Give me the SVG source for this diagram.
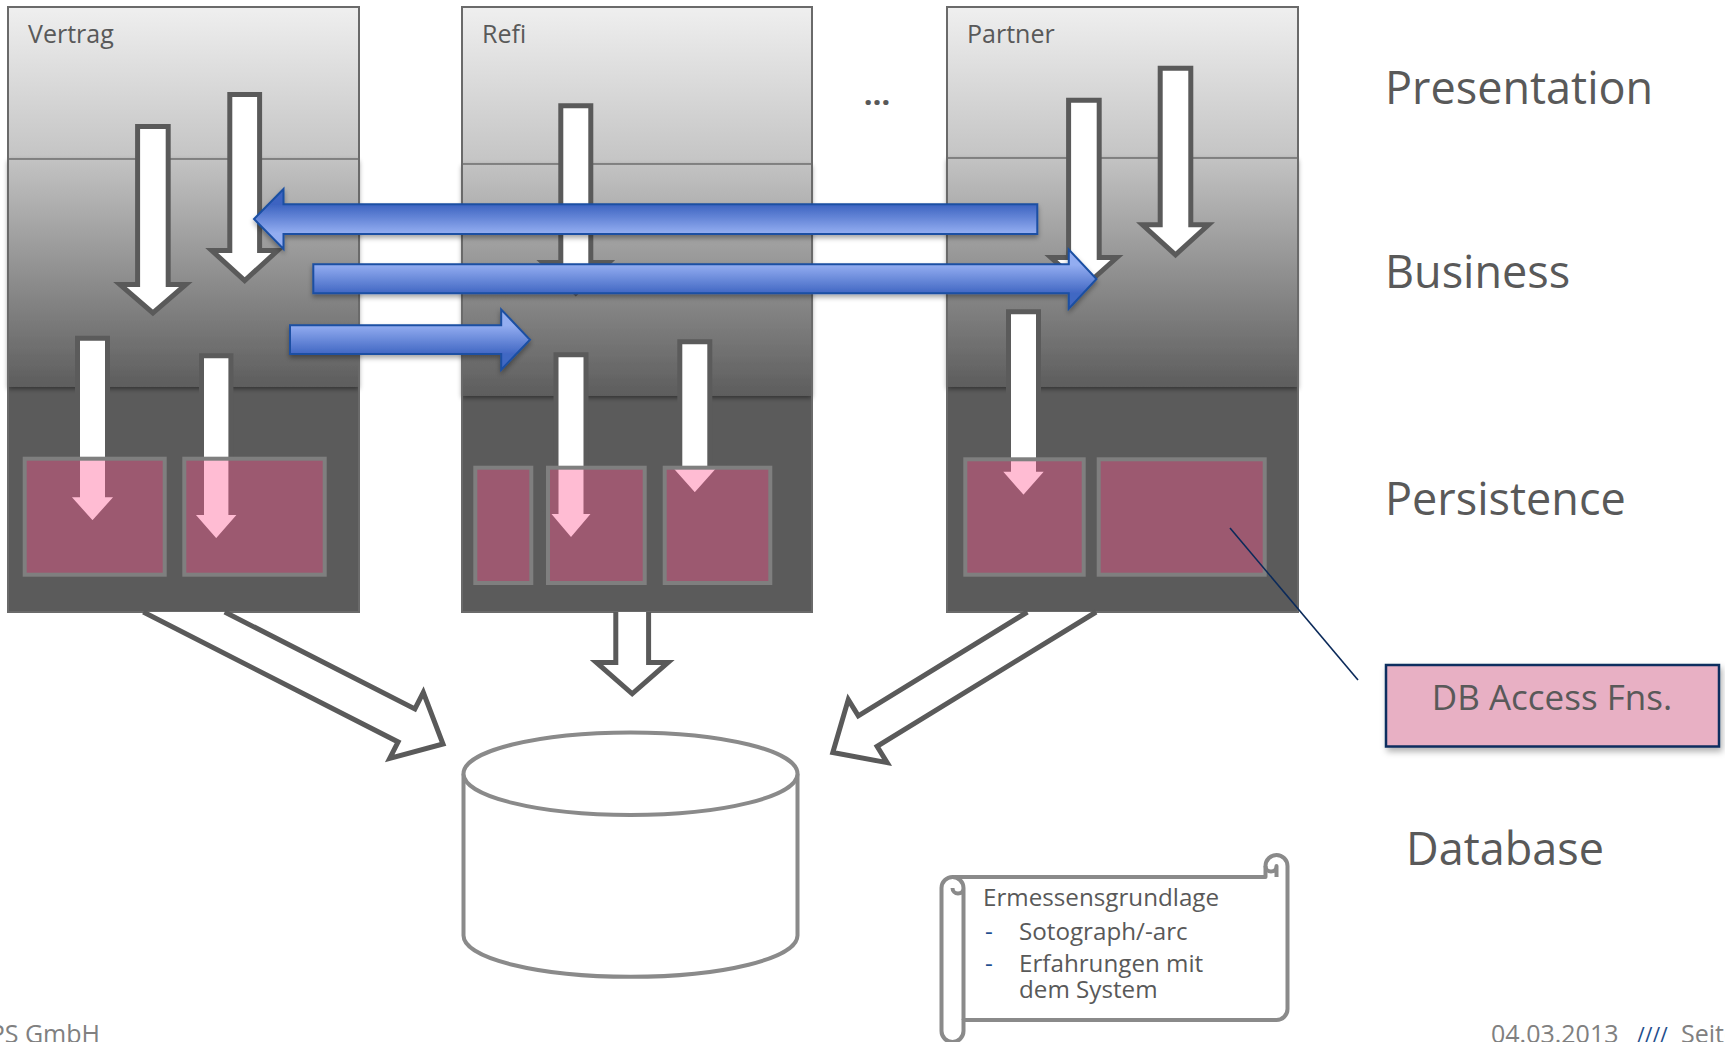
<svg xmlns="http://www.w3.org/2000/svg" width="1725" height="1042" viewBox="0 0 1725 1042">
<defs>
<style>
.lbl{font-family:"Open Sans","Liberation Sans",sans-serif;fill:#595959}
.col-title{font-size:25px}
.layer{font-size:45px}
.outline{fill:none;stroke:#6a6a6a;stroke-width:2}
.div{stroke:#6e6e6e;stroke-width:1.5}
.warrow{fill:#ffffff;stroke:#5a5a5a;stroke-width:5;stroke-linejoin:miter}
.parrow{fill:#ffffff;stroke:#5b5b5b;stroke-width:5}
.pbox{fill:#ff5890;fill-opacity:0.4;stroke:#7f7f7f;stroke-width:4}
.barrow{stroke:#1a4fa3;stroke-width:2;filter:url(#sh)}
.db{fill:#ffffff;stroke:#8a8a8a;stroke-width:4}
.scroll{fill:#ffffff;stroke:#8a8a8a;stroke-width:4;stroke-linejoin:round}
.note-t{font-size:24.2px}
.foot{font-family:"Open Sans","Liberation Sans",sans-serif;font-size:25px;fill:#808080}
.slash{font-size:21px;fill:#1f4e8c}
</style>
<linearGradient id="gPres" x1="0" y1="0" x2="0" y2="1"><stop offset="0" stop-color="#efefef"/><stop offset="1" stop-color="#c4c4c4"/></linearGradient>
<linearGradient id="gBus" x1="0" y1="0" x2="0" y2="1"><stop offset="0" stop-color="#c3c3c3"/><stop offset="1" stop-color="#5d5d5d"/></linearGradient>
<linearGradient id="gBlueR" x1="0" y1="0" x2="0" y2="1"><stop offset="0" stop-color="#93adf1"/><stop offset="0.26" stop-color="#93adf1"/><stop offset="0.74" stop-color="#4167c3"/><stop offset="1" stop-color="#4167c3"/></linearGradient>
<linearGradient id="gBlueL" x1="0" y1="0" x2="0" y2="1"><stop offset="0" stop-color="#3d64c1"/><stop offset="0.26" stop-color="#3d64c1"/><stop offset="0.74" stop-color="#93adf1"/><stop offset="1" stop-color="#93adf1"/></linearGradient>
<filter id="sh" x="-5%" y="-40%" width="110%" height="200%"><feDropShadow dx="0" dy="3" stdDeviation="2.5" flood-color="#000" flood-opacity="0.35"/></filter>
<filter id="bsh" x="-5%" y="-10%" width="110%" height="125%"><feDropShadow dx="0" dy="2" stdDeviation="2.5" flood-color="#000" flood-opacity="0.45"/></filter>
<filter id="boxsh" x="-10%" y="-20%" width="120%" height="150%"><feDropShadow dx="2" dy="4" stdDeviation="3" flood-color="#000" flood-opacity="0.3"/></filter>
</defs>
<rect width="1725" height="1042" fill="#ffffff"/>

<!-- columns -->
<g id="col-vertrag">
<rect x="8" y="7" width="351" height="605" fill="#5b5b5b"/>
<rect x="8" y="7" width="351" height="152" fill="url(#gPres)"/>
<rect x="8" y="159" width="351" height="228" fill="url(#gBus)" filter="url(#bsh)"/>
<line class="div" x1="8" y1="159" x2="359" y2="159"/>
<rect class="outline" x="8" y="7" width="351" height="605"/>
<text class="lbl col-title" x="28" y="43">Vertrag</text>
</g>
<g id="col-refi">
<rect x="462" y="7" width="350" height="605" fill="#5b5b5b"/>
<rect x="462" y="7" width="350" height="157" fill="url(#gPres)"/>
<rect x="462" y="164" width="350" height="232" fill="url(#gBus)" filter="url(#bsh)"/>
<line class="div" x1="462" y1="164" x2="812" y2="164"/>
<rect class="outline" x="462" y="7" width="350" height="605"/>
<text class="lbl col-title" x="482" y="43">Refi</text>
</g>
<g id="col-partner">
<rect x="947" y="7" width="351" height="605" fill="#5b5b5b"/>
<rect x="947" y="7" width="351" height="151" fill="url(#gPres)"/>
<rect x="947" y="158" width="351" height="229" fill="url(#gBus)" filter="url(#bsh)"/>
<line class="div" x1="947" y1="158" x2="1298" y2="158"/>
<rect class="outline" x="947" y="7" width="351" height="605"/>
<text class="lbl col-title" x="967" y="43">Partner</text>
</g>
<g id="ellipsis"><text class="lbl" x="877" y="105" font-size="31" font-weight="bold" text-anchor="middle">…</text></g>

<!-- downward flows -->
<g id="connectors">
<path class="warrow" d="M137.6,126.5 H168.2 V284.5 H185.9 L152.9,313 L119.9,284.5 H137.6 Z"/>
<path class="warrow" d="M229.8,94.5 H259.6 V250.5 H277.7 L244.7,280.5 L211.7,250.5 H229.8 Z"/>
<path class="warrow" d="M560.8,105.8 H590.8 V262.5 H608.8 L575.8,293 L542.8,262.5 H560.8 Z"/>
<path class="warrow" d="M1068.6,100.2 H1099.2 V257.5 H1116.9 L1083.9,287 L1050.9,257.5 H1068.6 Z"/>
<path class="warrow" d="M1160.2,68.2 H1190.8 V224.8 H1208.5 L1175.5,254.8 L1142.5,224.8 H1160.2 Z"/>
<path class="parrow" d="M77.5,338.2 H107.5 V494.8 H118.5 L92.5,524 L66.5,494.8 H77.5 Z"/>
<path class="parrow" d="M201.5,355.8 H230.9 V512.5 H242 L216.2,541.8 L190.4,512.5 H201.5 Z"/>
<path class="parrow" d="M556,354.8 H586 V511.5 H595.8 L571,540.8 L546.2,511.5 H556 Z"/>
<path class="parrow" d="M679.8,341.8 H709.8 V466.5 H721.1 L694.8,495.8 L668.5,466.5 H679.8 Z"/>
<path class="parrow" d="M1008.5,311.8 H1038.5 V469.2 H1049.3 L1023.5,498.5 L997.7,469.2 H1008.5 Z"/>
<path class="warrow" d="M615.8,612 V662.5 H596.4 L632.2,693.8 L668,662.5 H648.6 V612"/>
<path class="warrow" d="M143.3,612 L398.1,741.9 L389.7,758.4 L443,744 L423.3,692.4 L414.9,708.9 L224.7,612"/>
<path class="warrow" d="M1027.4,612 L858.3,715.8 L848.3,699.6 L832.8,752.5 L887.1,762.6 L877.1,746.4 L1096.1,612"/>
</g>

<!-- persistence DB access boxes -->
<g id="vertrag-db1"><rect class="pbox" x="24.7" y="458.7" width="140" height="116"/></g>
<g id="vertrag-db2"><rect class="pbox" x="184.3" y="458.7" width="140.4" height="116"/></g>
<g id="refi-db1"><rect class="pbox" x="475.3" y="467.7" width="56" height="115.3"/></g>
<g id="refi-db2"><rect class="pbox" x="548" y="467.7" width="96.7" height="115.3"/></g>
<g id="refi-db3"><rect class="pbox" x="664.7" y="467.7" width="105.6" height="115.3"/></g>
<g id="partner-db1"><rect class="pbox" x="965.3" y="459.3" width="118.4" height="115.4"/></g>
<g id="partner-db2"><rect class="pbox" x="1098.7" y="459.3" width="166" height="115.4"/></g>

<!-- cross calls -->
<g id="calls">
<path class="barrow" fill="url(#gBlueL)" d="M1037.3,204.3 L283.5,204.3 L283.5,189 L254,219 L283.5,249 L283.5,234 L1037.3,234 Z"/>
<path class="barrow" fill="url(#gBlueR)" d="M313.3,264.3 L1068.8,264.3 L1068.8,249.5 L1096.5,279 L1068.8,308.8 L1068.8,293.3 L313.3,293.3 Z"/>
<path class="barrow" fill="url(#gBlueR)" d="M290,325.3 L501.2,325.3 L501.2,309.5 L530,339.7 L501.2,369.8 L501.2,354 L290,354 Z"/>
</g>

<!-- callout -->
<g id="callout-line"><line x1="1230" y1="528" x2="1358" y2="680" stroke="#0b2a5a" stroke-width="1.6"/></g>
<g id="db-access-legend">
<rect x="1386" y="665" width="333" height="81.5" fill="#e8b0c4" stroke="#0e2d5e" stroke-width="2.5" filter="url(#boxsh)"/>
<text class="lbl" x="1552" y="710" font-size="35" text-anchor="middle">DB Access Fns.</text>
</g>

<!-- database -->
<g id="database">
<path class="db" d="M463.5,773.7 V935.5 A167,41.3 0 0 0 797.5,935.5 V773.7"/>
<ellipse class="db" cx="630.5" cy="773.7" rx="167" ry="41.3"/>
</g>

<!-- layer labels -->
<g id="layer-labels">
<text class="lbl layer" x="1385" y="103.5">Presentation</text>
<text class="lbl layer" x="1385" y="288">Business</text>
<text class="lbl layer" x="1385" y="515">Persistence</text>
<text class="lbl layer" x="1406" y="865">Database</text>
</g>

<!-- scroll note -->
<g id="note">
<path class="scroll" d="M941.5,888 A11,11 0 0 1 952.5,877 L1265.5,877 L1265.5,866 A11,11 0 0 1 1287.5,866 L1287.5,1009 A11,11 0 0 1 1276.5,1020 L963.5,1020 L963.5,1031 A11,11 0 0 1 941.5,1031 Z"/>
<path class="scroll" d="M952.5,877 A11,11 0 0 1 963.5,888 A5.5,5.5 0 0 1 952.5,888 M963.5,888 L963.5,1020 M1265.5,866 A5.5,5.5 0 0 0 1276.5,866 L1276.5,877" style="fill:none"/>
<text class="lbl note-t" x="983" y="906">Ermessensgrundlage</text>
<text class="lbl note-t" x="985" y="940" style="fill:#1f4f8f">-</text>
<text class="lbl note-t" x="1019" y="940">Sotograph/-arc</text>
<text class="lbl note-t" x="985" y="972" style="fill:#1f4f8f">-</text>
<text class="lbl note-t" x="1019" y="972">Erfahrungen mit</text>
<text class="lbl note-t" x="1019" y="998">dem System</text>
</g>

<!-- footer -->
<g id="footer">
<text class="foot" x="100" y="1043" text-anchor="end">PS GmbH</text>
<text class="foot" x="1491" y="1043">04.03.2013</text>
<text class="foot slash" x="1637" y="1043">////</text>
<text class="foot" x="1681" y="1043">Seite</text>
</g>
</svg>
